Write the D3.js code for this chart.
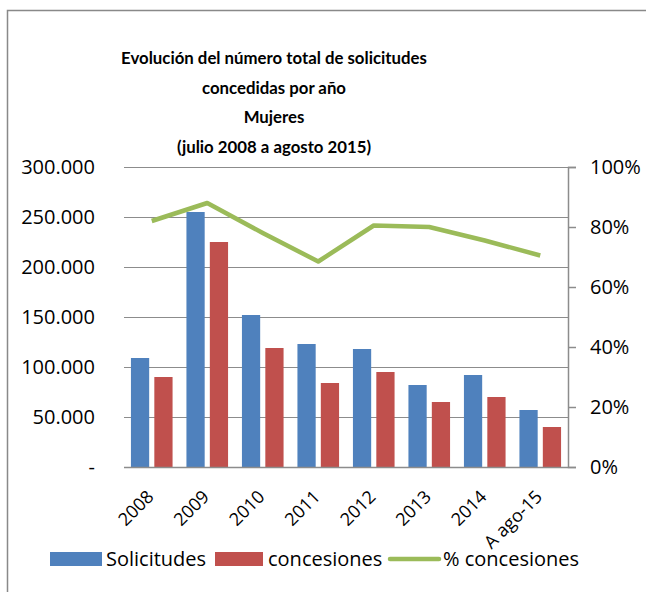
<!DOCTYPE html>
<html>
<head>
<meta charset="utf-8">
<script src="https://cdn.jsdelivr.net/npm/d3@7"></script>
<style>
  body { margin: 0; background: #fff; }
  svg text { font-family: "Open Sans", Lato, sans-serif; fill: #000; }
</style>
</head>
<body>
<main></main>
<script>
const width = 646, height = 592;

// data
const years = ["2008", "2009", "2010", "2011", "2012", "2013", "2014", "A ago-15"];
const solicitudes = [109000, 255000, 152000, 123000, 118000, 82000, 92000, 57000];
const concesiones = [90000, 225000, 119000, 84000, 95000, 65000, 70000, 40000];
const pctConcesiones = [0.82, 0.88, 0.78, 0.685, 0.805, 0.80, 0.755, 0.705];
const leftTicks = [0, 50000, 100000, 150000, 200000, 250000, 300000];
const rightTicks = [0, 0.2, 0.4, 0.6, 0.8, 1];
const titleLines = ["Evolución del número total de solicitudes", "concedidas por año", "Mujeres", "(julio 2008 a agosto 2015)"];

const plot = {left: 124, right: 568, top: 167, bottom: 467};

const svg = d3.select("main").append("svg")
    .attr("width", width)
    .attr("height", height);

// chart border
svg.append("rect")
    .attr("x", 7.5).attr("y", 10.5)
    .attr("width", 660).attr("height", 600)
    .attr("fill", "none")
    .attr("stroke", "#898989")
    .attr("stroke-width", 1.5);

const x = d3.scaleBand()
    .domain(years)
    .range([plot.left, plot.right])
    .paddingInner(0.25)
    .paddingOuter(0.125);

const xSub = d3.scaleBand()
    .domain(["solicitudes", "concesiones"])
    .range([0, x.bandwidth()])
    .paddingInner(0.22);

const y = d3.scaleLinear().domain([0, 300000]).range([plot.bottom, plot.top]);
const y2 = d3.scaleLinear().domain([0, 1]).range([plot.bottom, plot.top]);

// gridlines
svg.append("g")
  .selectAll("line")
  .data(leftTicks.slice(1))
  .join("line")
    .attr("x1", plot.left).attr("x2", plot.right)
    .attr("y1", d => Math.round(y(d)) + 0.5)
    .attr("y2", d => Math.round(y(d)) + 0.5)
    .attr("stroke", "#8c8c8c")
    .attr("stroke-width", 1.2);

// left axis
const fmtLeft = d => d === 0 ? "-" : d3.format(",")(d).replace(/,/g, ".");
const gLeft = svg.append("g")
    .attr("transform", `translate(${plot.left},0)`)
    .call(d3.axisLeft(y).tickValues(leftTicks).tickSize(0).tickPadding(29).tickFormat(fmtLeft));
gLeft.select(".domain").remove();
gLeft.selectAll("text").attr("font-size", 20).attr("font-family", null);

// bars
const groups = svg.append("g")
  .selectAll("g")
  .data(years)
  .join("g")
    .attr("transform", d => `translate(${x(d)},0)`);

groups.append("rect")
    .attr("x", xSub("solicitudes"))
    .attr("width", xSub.bandwidth())
    .attr("y", (d, i) => y(solicitudes[i]))
    .attr("height", (d, i) => y(0) - y(solicitudes[i]))
    .attr("fill", "#4f81bd");

groups.append("rect")
    .attr("x", xSub("concesiones"))
    .attr("width", xSub.bandwidth())
    .attr("y", (d, i) => y(concesiones[i]))
    .attr("height", (d, i) => y(0) - y(concesiones[i]))
    .attr("fill", "#c0504d");

// x axis line
svg.append("line")
    .attr("x1", plot.left).attr("x2", plot.right)
    .attr("y1", plot.bottom + 0.5).attr("y2", plot.bottom + 0.5)
    .attr("stroke", "#8c8c8c")
    .attr("stroke-width", 1.5);

// right axis
const gRight = svg.append("g")
    .attr("transform", `translate(${plot.right},0)`)
    .call(d3.axisRight(y2).tickValues(rightTicks).tickSize(8).tickPadding(14).tickFormat(d3.format(".0%")));
gRight.selectAll("line, path").attr("stroke", "#8c8c8c").attr("stroke-width", 1.5);
gRight.selectAll("text").attr("font-size", 20).attr("font-family", null);

// line
const line = d3.line()
    .x((d, i) => x(years[i]) + x.bandwidth() / 2)
    .y(d => y2(d));

svg.append("path")
    .datum(pctConcesiones)
    .attr("d", line)
    .attr("fill", "none")
    .attr("stroke", "#9bbb59")
    .attr("stroke-width", 4.5)
    .attr("stroke-linejoin", "round");

// category labels, rotated
svg.append("g")
  .selectAll("text")
  .data(years)
  .join("text")
    .attr("transform", d => {
      const cx = x(d) + x.bandwidth() / 2 + 3;
      return `translate(${cx},${plot.bottom + 31}) rotate(-45)`;
    })
    .attr("text-anchor", "end")
    .attr("font-size", 18)
    .text(d => d);

// title
svg.append("text")
    .attr("x", 274)
    .attr("y", 64)
    .attr("text-anchor", "middle")
    .style("font-family", "Lato, sans-serif")
    .attr("font-size", 16.8)
    .attr("font-weight", "bold")
  .selectAll("tspan")
  .data(titleLines)
  .join("tspan")
    .attr("x", 274)
    .attr("dy", (d, i) => i === 0 ? 0 : 29.5)
    .text(d => d);

// legend
const legend = svg.append("g").attr("transform", "translate(0,559)");
legend.append("rect").attr("x", 50).attr("y", -7).attr("width", 52).attr("height", 14).attr("fill", "#4f81bd");
legend.append("text").attr("x", 106).attr("y", 7).attr("font-size", 20).text("Solicitudes");
legend.append("rect").attr("x", 215).attr("y", -7).attr("width", 48).attr("height", 14).attr("fill", "#c0504d");
legend.append("text").attr("x", 268).attr("y", 7).attr("font-size", 20).text("concesiones");
legend.append("line").attr("x1", 390).attr("x2", 439).attr("y1", 0).attr("y2", 0)
    .attr("stroke", "#9bbb59").attr("stroke-width", 4.5).attr("stroke-linecap", "round");
legend.append("text").attr("x", 443).attr("y", 7).attr("font-size", 20).text("% concesiones");
</script>
</body>
</html>
